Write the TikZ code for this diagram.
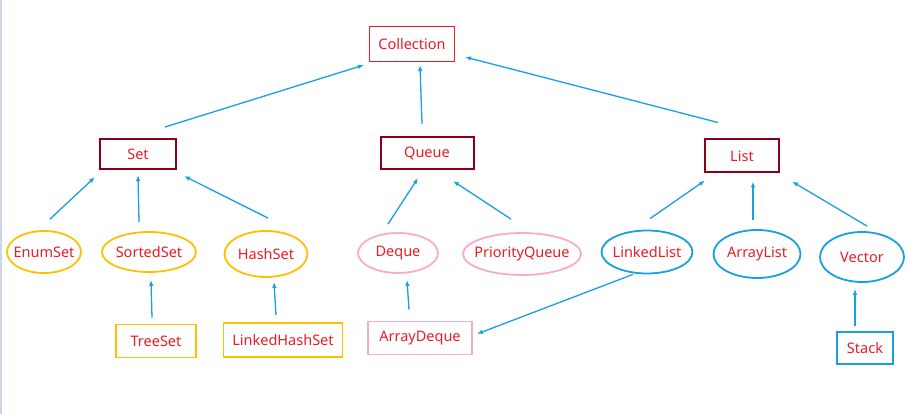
\documentclass[tikz,border=0pt]{standalone}
\usepackage{fontspec}
\setmainfont{Noto Sans}
\usetikzlibrary{shapes.geometric,arrows.meta}
\definecolor{txtred}{RGB}{236,28,36}
\definecolor{darkred}{RGB}{139,0,22}
\definecolor{gold}{RGB}{255,192,0}
\definecolor{pinkline}{RGB}{248,172,198}
\definecolor{skyblue}{RGB}{24,160,224}
\definecolor{edgegray}{RGB}{204,214,230}

\begin{document}
\begin{tikzpicture}[x=1pt,y=-1pt,>={Latex[length=6pt,width=4.5pt]},
	lbl/.style={text=txtred,font=\fontsize{14.5}{16}\selectfont,inner sep=0pt},
	oval/.style={lbl,ellipse,inner xsep=-14pt,inner ysep=-6pt,line width=1.8pt},
	topbox/.style={lbl,draw=txtred,line width=1pt},
	ifbox/.style={lbl,draw=darkred,line width=2pt},
	setoval/.style={oval,draw=gold},
	setbox/.style={lbl,draw=gold,line width=1.8pt},
	queueoval/.style={oval,draw=pinkline},
	queuebox/.style={lbl,draw=pinkline,line width=1.8pt},
	listoval/.style={oval,draw=skyblue},
	listbox/.style={lbl,draw=skyblue,line width=2pt},
	arr/.style={->,skyblue,line width=1.3pt}]
		\useasboundingbox[fill=white] (0,0) rectangle (908,414);
		\draw[edgegray,line width=2pt] (1,0) -- (1,414);
		% root and interfaces
		\node[topbox,minimum width=85,minimum height=35] (coll) at (412,44) {Collection};
		\node[ifbox,minimum width=76,minimum height=30] (set) at (138,154) {Set};
		\node[ifbox,minimum width=93,minimum height=32] (queue) at (427,153) {Queue};
		\node[ifbox,minimum width=74,minimum height=33] (list) at (742,156) {List};
		% set branch
		\node[setoval,minimum width=74,minimum height=42] (enumset) at (44,252) {EnumSet};
		\node[setoval,minimum width=94,minimum height=40] (sortedset) at (149,252) {SortedSet};
		\node[setoval,minimum width=83,minimum height=46] (hashset) at (266,254) {HashSet};
		\node[setbox,minimum width=80,minimum height=33] (treeset) at (156,341) {TreeSet};
		\node[setbox,minimum width=119,minimum height=34] (lhs) at (283,340) {LinkedHashSet};
		% queue branch
		\node[queueoval,minimum width=80,minimum height=40] (deque) at (398,253) {Deque};
		\node[queueoval,minimum width=118,minimum height=42] (pq) at (522,254) {PriorityQueue};
		\node[queuebox,minimum width=104,minimum height=33] (ad) at (420,338) {ArrayDeque};
		% list branch
		\node[listoval,minimum width=91,minimum height=43] (llist) at (647,252) {LinkedList};
		\node[listoval,minimum width=87,minimum height=48] (alist) at (757,254) {ArrayList};
		\node[listoval,minimum width=84,minimum height=50] (vector) at (862,257) {Vector};
		\node[listbox,minimum width=56,minimum height=32] (stack) at (865,348) {Stack};
		%arrows
		\draw[arr] ([xshift=27pt,yshift=11pt]set.north) -- ([xshift=-5pt,yshift=-3pt]coll.south west);
		\draw[arr] ([xshift=-5pt,yshift=12pt]queue.north) -- ([xshift=8pt,yshift=-3pt]coll.south);
		\draw[arr] ([xshift=-24pt,yshift=16pt]list.north) -- ([xshift=10pt,yshift=5pt]coll.south east);
		\draw[arr] ([xshift=6pt,yshift=11pt]enumset.north) -- ([xshift=-4pt,yshift=-7pt]set.south west);
		\draw[arr] ([xshift=-10pt,yshift=9pt]sortedset.north) -- ([yshift=-5pt]set.south);
		\draw[arr] ([xshift=2pt,yshift=12pt]hashset.north) -- ([xshift=7pt,yshift=-6pt]set.south east);
		\draw[arr] ([xshift=-4pt,yshift=6pt]treeset.north) -- ([xshift=2pt,yshift=-7pt]sortedset.south);
		\draw[arr] ([xshift=-7pt,yshift=7pt]lhs.north) -- ([xshift=8pt,yshift=-4pt]hashset.south);
		\draw[arr] ([xshift=-10pt,yshift=8pt]deque.north) -- ([xshift=-9pt,yshift=-8pt]queue.south);
		\draw[arr] ([xshift=-11pt,yshift=13pt]pq.north) -- ([xshift=26pt,yshift=-11pt]queue.south);
		\draw[arr] ([xshift=-11pt,yshift=11pt]ad.north) -- ([xshift=9pt,yshift=-6pt]deque.south);
		\draw[arr] ([xshift=-14pt]llist.south) -- ([xshift=4pt,yshift=4pt]ad.east);
		\draw[arr] ([xshift=3pt,yshift=11pt]llist.north) -- ([xshift=1pt,yshift=-7pt]list.south west);
		\draw[arr] ([xshift=-4pt,yshift=9pt]alist.north) -- ([xshift=11pt,yshift=-8pt]list.south);
		\draw[arr] ([xshift=5pt,yshift=5pt]vector.north) -- ([xshift=12pt,yshift=-8pt]list.south east);
		\draw[arr] ([xshift=-10pt,yshift=5pt]stack.north) -- ([xshift=-7pt,yshift=-6pt]vector.south);
\end{tikzpicture}
\end{document}
